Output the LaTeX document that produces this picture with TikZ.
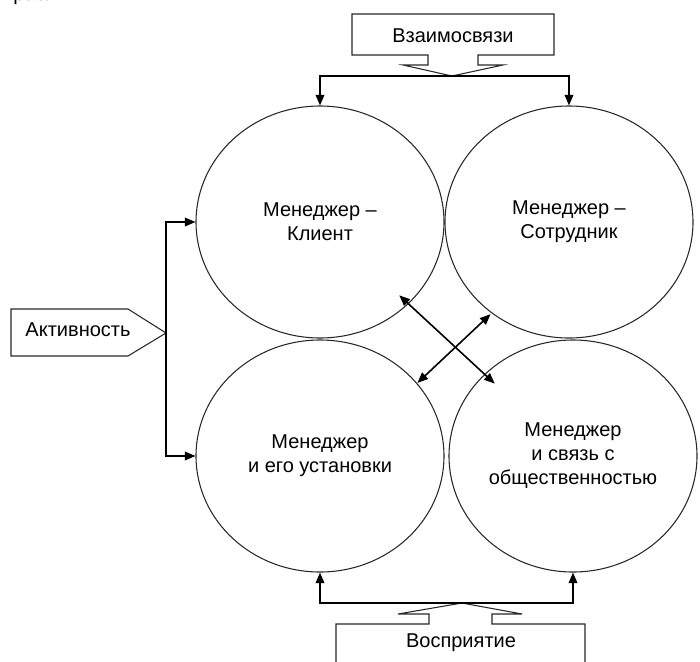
\documentclass[tikz,border=0pt]{standalone}
\usepackage{fontspec}
\setmainfont{Liberation Sans}
\usepackage{tikz}
\usetikzlibrary{shapes.geometric,arrows.meta,positioning,calc}
\usepackage{xcolor}
\definecolor{linegray}{RGB}{40,40,40}
\tikzset{
    sphere/.style={ellipse, draw=linegray, line width=0.8pt, minimum width=186pt, minimum height=174pt, inner sep=0pt, align=center, font=\fontsize{15pt}{18pt}\selectfont},
    callout/.style={draw=linegray, line width=0.8pt},
    lbl/.style={font=\fontsize{15pt}{18pt}\selectfont, anchor=base, inner sep=0pt},
    link/.style={line width=1.2pt, black, -{Triangle[length=8pt,width=6.5pt]}},
    dlink/.style={line width=1.2pt, black, {Triangle[length=8pt,width=6.5pt]}-{Triangle[length=8pt,width=6.5pt]}},
}

\begin{document}
\begin{tikzpicture}[x=0.75pt, y=-0.75pt]
    \useasboundingbox (0,0) rectangle (700,661);
    \clip (0,0) rectangle (700,661);

    % Text above (cut off)
    \node[lbl, anchor=base west] (prev) at (4,0.5) {трасли.};

    % Circles
    \node[sphere] (klient) at (320,222) {Менеджер –\\Клиент};
    \node[sphere] (sotr) at (569,222) {Менеджер –\\Сотрудник};
    \node[sphere] (ustan) at (320,456) {Менеджер\\и его установки};
    \node[sphere] (obsch) at (573,456) {Менеджер\\и связь с\\общественностью};

    % Top: relations
    \node[lbl] (vzaim) at (453,42) {Взаимосвязи};
    \draw[callout] (352,14) -- (554,14) -- (554,55) -- (478,55) -- (478,65) -- (503,65) -- (452,76) -- (403,65) -- (428,65) -- (428,55) -- (352,55) -- cycle;
    \coordinate (vzt) at (452,76);
    \draw[link] (vzt) -| (klient.north);
    \draw[link] (vzt) -| (sotr.north);

    % Left: activity
    \node[lbl] (aktiv) at (78,336) {Активность};
    \draw[callout] (11,309) -- (128,309) -- (166,333) -- (128,356) -- (11,356) -- cycle;
    \coordinate (akt) at (166,333);
    \draw[link] (akt) |- (klient.west);
    \draw[link] (akt) |- (ustan.west);

    % Bottom: perception
    \node[lbl] (vospr) at (461,647) {Восприятие};
    \draw[callout] (336,672) -- (336,624) -- (429,624) -- (429,614) -- (398,614) -- (462,603) -- (522,614) -- (492,614) -- (492,624) -- (585,624) -- (585,672);
    \coordinate (vos) at (462,603);
    \draw[link] (vos) -| (ustan.south);
    \draw[link] (vos) -| (obsch.south);

    % Cross links
    \draw[dlink, shorten <=81pt, shorten >=80pt] (klient.center) -- (obsch.center);
    \draw[dlink, shorten <=91pt, shorten >=90pt] ([shift={(9,10)}]ustan.center) -- ([shift={(9,10)}]sotr.center);
\end{tikzpicture}
\end{document}
